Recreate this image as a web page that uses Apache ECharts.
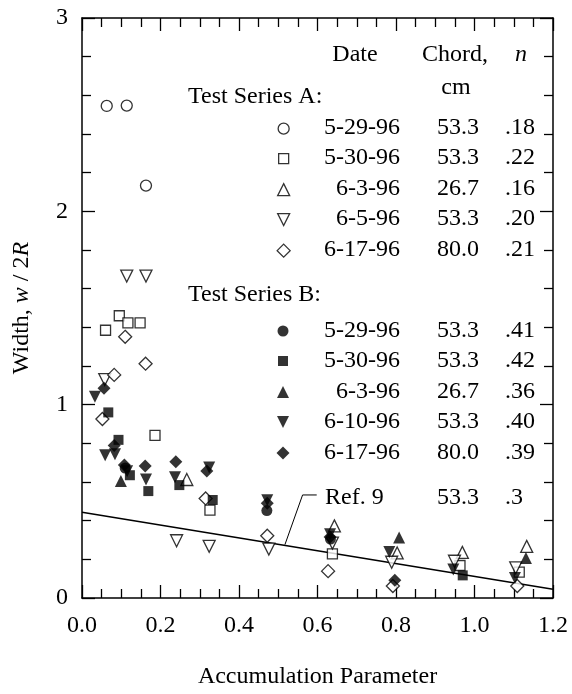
<!DOCTYPE html>
<html>
<head>
<meta charset="utf-8">
<script src="https://cdn.jsdelivr.net/npm/echarts@6/dist/echarts.min.js"></script>
<style>
  html, body { margin: 0; padding: 0; background: #fff; }
  #width-chart { width: 572px; height: 694px; }
</style>
</head>
<body>
<div id="width-chart"></div>
<script>
// Test Series A (open symbols): [accumulation parameter, w/2R]
const seriesA_0529 = [[0.063, 2.545], [0.114, 2.547], [0.163, 2.133]];
const seriesA_0530 = [[0.060, 1.385], [0.095, 1.46], [0.117, 1.423], [0.148, 1.423], [0.186, 0.841],
  [0.326, 0.455], [0.638, 0.228], [0.963, 0.168], [1.114, 0.134]];
const seriesA_0603 = [[0.267, 0.613], [0.643, 0.373], [0.803, 0.233], [0.969, 0.236], [1.133, 0.267]];
const seriesA_0605 = [[0.114, 1.665], [0.163, 1.665], [0.058, 1.13], [0.241, 0.296], [0.324, 0.267],
  [0.476, 0.253], [0.638, 0.284], [0.789, 0.185], [0.949, 0.19], [1.105, 0.156]];
const seriesA_0617 = [[0.052, 0.926], [0.082, 1.154], [0.110, 1.351], [0.162, 1.212], [0.315, 0.515],
  [0.472, 0.322], [0.627, 0.139], [0.792, 0.062], [1.109, 0.062]];

// Test Series B (filled symbols)
const seriesB_0529 = [[0.110, 0.672], [0.471, 0.452], [0.633, 0.305]];
const seriesB_0530 = [[0.067, 0.96], [0.093, 0.818], [0.122, 0.635], [0.169, 0.553], [0.248, 0.584],
  [0.333, 0.507], [0.970, 0.117]];
const seriesB_0603 = [[0.099, 0.605], [0.808, 0.313], [1.131, 0.207]];
const seriesB_0610 = [[0.033, 1.041], [0.059, 0.738], [0.084, 0.743], [0.115, 0.655], [0.163, 0.613],
  [0.237, 0.624], [0.324, 0.675], [0.472, 0.505], [0.632, 0.33], [0.783, 0.238], [0.946, 0.147], [1.103, 0.104]];
const seriesB_0617 = [[0.056, 1.085], [0.082, 0.789], [0.108, 0.688], [0.161, 0.683], [0.239, 0.705],
  [0.318, 0.657], [0.472, 0.49], [0.632, 0.315], [0.797, 0.092]];

// Ref. 9 line and its leader
const refLine = [[0, 0.443], [1.2, 0.045]];
const refLeader = [[0.598, 0.533], [0.562, 0.533], [0.517, 0.276]];

// legend table
const dates = ['5-29-96', '5-30-96', '6-3-96', '6-5-96', '6-17-96', '5-29-96', '5-30-96', '6-3-96', '6-10-96', '6-17-96'];
const chords = ['53.3', '53.3', '26.7', '53.3', '80.0', '53.3', '53.3', '26.7', '53.3', '80.0'];
const nValues = ['.18', '.22', '.16', '.20', '.21', '.41', '.42', '.36', '.40', '.39'];
const refInfo = { name: 'Ref. 9', chord: '53.3', n: '.3' };
const xTicks = [0, 0.2, 0.4, 0.6, 0.8, 1.0, 1.2];
const yTicks = [0, 1, 2, 3];

const FONT = 'Liberation Serif';
const DOWN = 'path://M0,0L10,0L5,10Z';
const shapes = [
  { symbol: 'circle', size: 11 },
  { symbol: 'rect', size: 10 },
  { symbol: 'triangle', size: 12 },
  { symbol: DOWN, size: 12 },
  { symbol: 'diamond', size: 13 },
];
const allData = [seriesA_0529, seriesA_0530, seriesA_0603, seriesA_0605, seriesA_0617,
  seriesB_0529, seriesB_0530, seriesB_0603, seriesB_0610, seriesB_0617];
const rowY = [128, 158, 189, 219, 250, 331, 361, 392, 422, 453];
const ICON_X = 283;
const DATE_RIGHT = 400;
const CHORD_RIGHT = 479;
const N_LEFT = 505;

const txt = (text, x, y, align, italic) => ({
  type: 'text', x: x, y: y, z: 10,
  style: {
    text: text, font: (italic ? 'italic ' : '') + '24px "' + FONT + '"', fill: '#000',
    textAlign: align, textVerticalAlign: 'middle',
  },
});

const scatterSeries = [];
const legends = [];
const tableText = [];
allData.forEach((d, i) => {
  const open = i < 5;
  const shp = shapes[i % 5];
  const name = (open ? 'A ' : 'B ') + dates[i];
  scatterSeries.push({
    name: name,
    type: 'scatter',
    symbol: shp.symbol,
    symbolSize: shp.size,
    itemStyle: open
      ? { color: '#fff', borderColor: '#000', borderWidth: 1.3 }
      : { color: '#000', borderWidth: 0 },
    data: d,
    z: open ? 3 : 4,
    animation: false,
  });
  // legend only draws the symbol, the columns are plain text
  legends.push({
    data: [name],
    left: ICON_X - shp.size / 2,
    top: rowY[i] - shp.size / 2,
    padding: 0,
    itemWidth: shp.size,
    itemHeight: shp.size,
    selectedMode: false,
    itemStyle: { borderWidth: open ? 1.3 : 0 },
    formatter: () => '',
    textStyle: { fontSize: 1 },
  });
  tableText.push(txt(dates[i], DATE_RIGHT, rowY[i], 'right'));
  tableText.push(txt(chords[i], CHORD_RIGHT, rowY[i], 'right'));
  tableText.push(txt(nValues[i], N_LEFT, rowY[i], 'left'));
});

const axisBase = {
  min: 0,
  axisLine: { show: true, onZero: false, lineStyle: { color: '#000', width: 1.5 } },
  axisTick: { show: true, inside: true, length: 13, lineStyle: { color: '#000', width: 1.3 } },
  minorTick: { show: true, length: 9, lineStyle: { color: '#000', width: 1.3 } },
  splitLine: { show: false },
};

const chart = echarts.init(document.getElementById('width-chart'));
chart.setOption({
  animation: false,
  grid: { left: 82, right: 19, top: 18, bottom: 92 },
  legend: legends,
  xAxis: [
    Object.assign({}, axisBase, {
      type: 'value', max: 1.2, interval: 0.2,
      minorTick: Object.assign({}, axisBase.minorTick, { splitNumber: 4 }),
      axisLabel: {
        margin: 16, fontFamily: FONT, fontSize: 24, color: '#000',
        formatter: (v) => (xTicks.indexOf(+v.toFixed(1)) >= 0 ? v.toFixed(1) : ''),
      },
      name: 'Accumulation Parameter', nameLocation: 'middle', nameGap: 67,
      nameTextStyle: { fontFamily: FONT, fontSize: 24, color: '#000' },
    }),
    Object.assign({}, axisBase, {
      type: 'value', max: 1.2, interval: 0.2, position: 'top',
      minorTick: Object.assign({}, axisBase.minorTick, { splitNumber: 4 }),
      axisLabel: { show: false },
    }),
  ],
  yAxis: [
    Object.assign({}, axisBase, {
      type: 'value', max: 3, interval: 1,
      minorTick: Object.assign({}, axisBase.minorTick, { splitNumber: 5 }),
      axisLabel: {
        margin: 14, fontFamily: FONT, fontSize: 24, color: '#000',
        formatter: (v) => (yTicks.indexOf(v) >= 0 ? String(v) : ''),
      },
      name: '{a|Width, }{b|w}{a| / 2}{b|R}', nameLocation: 'middle', nameGap: 48,
      nameTextStyle: {
        rich: {
          a: { fontFamily: FONT, fontSize: 24, color: '#000' },
          b: { fontFamily: FONT, fontSize: 24, color: '#000', fontStyle: 'italic' },
        },
      },
    }),
    Object.assign({}, axisBase, {
      type: 'value', max: 3, interval: 1, position: 'right',
      minorTick: Object.assign({}, axisBase.minorTick, { splitNumber: 5 }),
      axisLabel: { show: false },
    }),
  ],
  graphic: [
    txt('Date', 355, 55, 'center'),
    txt('Chord,', 422, 55, 'left'),
    txt('n', 515, 55, 'left', true),
    txt('cm', 456, 88, 'center'),
    txt('Test Series A:', 188, 97, 'left'),
    txt('Test Series B:', 188, 295, 'left'),
    txt(refInfo.name, 325, 498, 'left'),
    txt(refInfo.chord, CHORD_RIGHT, 498, 'right'),
    txt(refInfo.n, N_LEFT, 498, 'left'),
  ].concat(tableText),
  series: scatterSeries.concat([
    {
      name: 'Ref. 9',
      type: 'line',
      data: refLine,
      symbol: 'none',
      lineStyle: { color: '#000', width: 1.5 },
      z: 2,
      animation: false,
    },
    {
      name: 'leader',
      type: 'line',
      data: refLeader,
      symbol: 'none',
      lineStyle: { color: '#000', width: 1 },
      z: 2,
      animation: false,
    },
  ]),
});

window.addEventListener('resize', function () {
  chart.resize();
});
</script>
</body>
</html>
